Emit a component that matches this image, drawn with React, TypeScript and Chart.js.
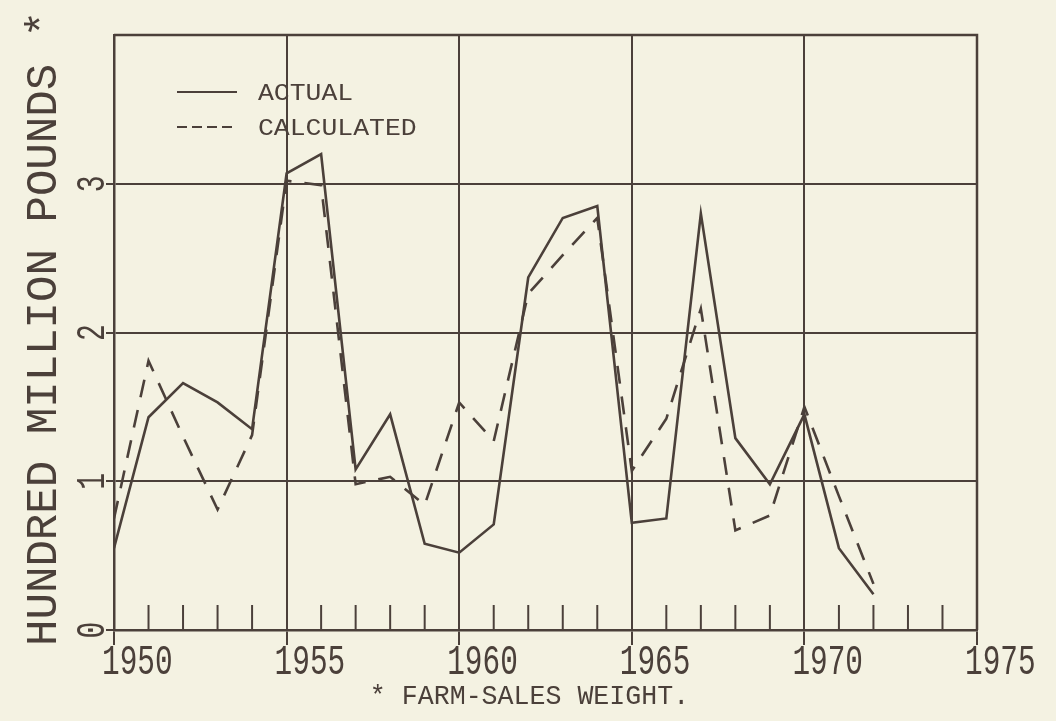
import React, { useEffect, useRef } from "react";
import { Chart, registerables } from "chart.js";

Chart.register(...registerables);

// ---- data ----
const years = [1950, 1951, 1952, 1953, 1954, 1955, 1956, 1957, 1958, 1959, 1960, 1961, 1962, 1963, 1964, 1965, 1966, 1967, 1968, 1969, 1970, 1971, 1972];
const actual = [0.55, 1.43, 1.66, 1.53, 1.35, 3.07, 3.2, 1.08, 1.45, 0.58, 0.52, 0.71, 2.37, 2.77, 2.85, 0.72, 0.75, 2.8, 1.29, 0.98, 1.45, 0.55, 0.24];
const calculated = [0.75, 1.81, 1.3, 0.81, 1.31, 3.02, 2.99, 0.98, 1.03, 0.84, 1.53, 1.27, 2.26, 2.52, 2.77, 1.07, 1.42, 2.16, 0.67, 0.77, 1.5, 0.9, 0.31];
const xTickYears = [1950, 1955, 1960, 1965, 1970, 1975];
const yTickValues = [0, 1, 2, 3];
const seriesNames = ["ACTUAL", "CALCULATED"];
const yAxisTitle = "HUNDRED MILLION POUNDS *";
const footnote = "* FARM-SALES WEIGHT.";

const INK = "#4b403a";
const PAPER = "#f4f2e2";
const FONT = '"Liberation Mono", "DejaVu Sans Mono", monospace';

function drawText(
  ctx: CanvasRenderingContext2D,
  text: string,
  x: number,
  y: number,
  size: number,
  sx: number,
  align: CanvasTextAlign,
  baseline: CanvasTextBaseline,
  rotate = 0
) {
  ctx.save();
  ctx.translate(x, y);
  if (rotate) ctx.rotate(rotate);
  ctx.scale(sx, 1);
  ctx.font = `${size}px ${FONT}`;
  ctx.textAlign = align;
  ctx.textBaseline = baseline;
  ctx.fillStyle = INK;
  ctx.fillText(text, 0, 0);
  ctx.restore();
}

const plotterPlugin = {
  id: "plotter",
  beforeDraw(chart: any) {
    const ctx = chart.ctx as CanvasRenderingContext2D;
    ctx.save();
    ctx.fillStyle = PAPER;
    ctx.fillRect(0, 0, chart.width, chart.height);
    ctx.restore();
  },
  afterDraw(chart: any) {
    const ctx = chart.ctx as CanvasRenderingContext2D;
    const a = chart.chartArea;
    const x = chart.scales.x;
    const y = chart.scales.y;
    ctx.save();
    ctx.strokeStyle = INK;
    ctx.lineWidth = 2.5;
    ctx.setLineDash([]);
    ctx.beginPath();
    ctx.moveTo(a.left, a.top);
    ctx.lineTo(a.right, a.top);
    ctx.lineTo(a.right, a.bottom);
    ctx.stroke();

    // minor inward ticks at each year
    ctx.lineWidth = 2;
    const minX = x.min as number;
    const maxX = x.max as number;
    for (let yr = minX + 1; yr < maxX; yr++) {
      if (yr % 5 === 0) continue;
      const px = x.getPixelForValue(yr);
      ctx.beginPath();
      ctx.moveTo(px, a.bottom);
      ctx.lineTo(px, a.bottom - 25);
      ctx.stroke();
    }

    // x tick labels
    for (const t of x.ticks) {
      if (!xTickYears.includes(t.value)) continue;
      const px = x.getPixelForValue(t.value);
      drawText(ctx, String(t.value), px - 12, 674, 42, 0.7, "left", "alphabetic");
    }
    // y tick labels (rotated)
    for (const t of y.ticks) {
      if (!yTickValues.includes(t.value)) continue;
      const py = y.getPixelForValue(t.value);
      drawText(ctx, String(t.value), 104, py, 40, 0.7, "center", "alphabetic", -Math.PI / 2);
    }
    // y axis title
    drawText(ctx, yAxisTitle, 56, 646, 45, 0.98, "left", "alphabetic", -Math.PI / 2);

    // legend
    const legendX0 = 177;
    const legendX1 = 237;
    const legendY = [92, 127];
    ctx.lineWidth = 2;
    ctx.beginPath();
    ctx.moveTo(legendX0, legendY[0]);
    ctx.lineTo(legendX1, legendY[0]);
    ctx.stroke();
    ctx.setLineDash([10, 5]);
    ctx.beginPath();
    ctx.moveTo(legendX0, legendY[1]);
    ctx.lineTo(legendX1, legendY[1]);
    ctx.stroke();
    ctx.setLineDash([]);
    drawText(ctx, seriesNames[0], 258, legendY[0] + 8, 23, 1.15, "left", "alphabetic");
    drawText(ctx, seriesNames[1], 258, legendY[1] + 8, 23, 1.15, "left", "alphabetic");

    // footnote
    drawText(ctx, footnote, (a.left + a.right) / 2 - 16, 704, 28, 0.95, "center", "alphabetic");
    ctx.restore();
  },
};

export default function App() {
  const ref = useRef<HTMLCanvasElement | null>(null);

  useEffect(() => {
    document.body.style.background = PAPER;
    const canvas = ref.current;
    if (!canvas) return;
    const chart = new Chart(canvas, {
      type: "line",
      data: {
        datasets: [
          {
            label: seriesNames[0],
            data: years.map((yr, i) => ({ x: yr, y: actual[i] })),
            borderColor: INK,
            borderWidth: 2.6,
            pointRadius: 0,
            tension: 0,
            fill: false,
          },
          {
            label: seriesNames[1],
            data: years.map((yr, i) => ({ x: yr, y: calculated[i] })),
            borderColor: INK,
            borderWidth: 2.6,
            borderDash: [18, 13],
            pointRadius: 0,
            tension: 0,
            fill: false,
          },
        ],
      },
      options: {
        animation: false,
        responsive: false,
        devicePixelRatio: 1,
        layout: { padding: { top: 35, right: 79, left: 0, bottom: 0 } },
        plugins: {
          legend: { display: false },
          tooltip: { enabled: false },
        },
        scales: {
          x: {
            type: "linear",
            min: 1950,
            max: 1975,
            afterFit: (s: any) => {
              s.height = 91;
            },
            ticks: { stepSize: 5, display: false },
            grid: {
              color: INK,
              lineWidth: 2,
              drawTicks: true,
              tickLength: 15,
            },
            border: { display: true, color: INK, width: 2.5 },
          },
          y: {
            type: "linear",
            min: 0,
            max: 4,
            afterFit: (s: any) => {
              s.width = 114;
            },
            ticks: { stepSize: 1, display: false },
            grid: {
              color: (c: any) => (c.tick && c.tick.value === 4 ? "rgba(0,0,0,0)" : INK),
              lineWidth: 2,
              drawTicks: true,
              tickLength: 8,
            },
            border: { display: true, color: INK, width: 2.5 },
          },
        },
      },
      plugins: [plotterPlugin],
    });
    return () => chart.destroy();
  }, []);

  return (
    <div style={{ position: "fixed", left: 0, top: 0, width: 1056, height: 721, background: PAPER }}>
      <canvas ref={ref} width={1056} height={721} style={{ display: "block" }} />
    </div>
  );
}
